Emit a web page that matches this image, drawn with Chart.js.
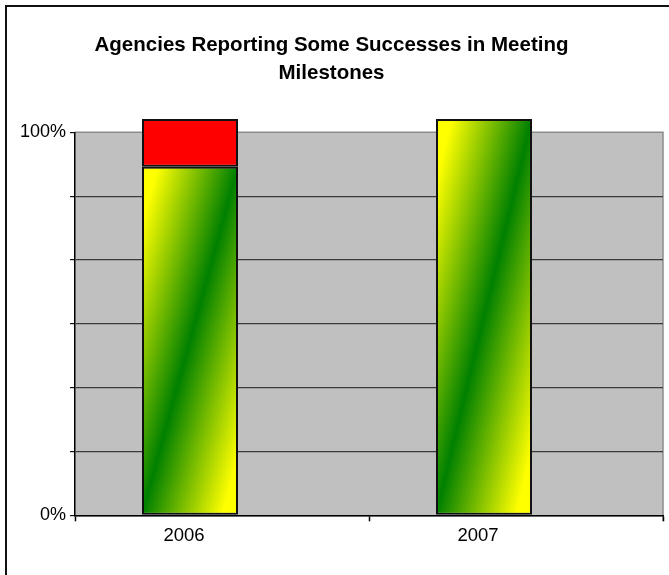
<!DOCTYPE html>
<html>
<head>
<meta charset="utf-8">
<script src="https://cdn.jsdelivr.net/npm/chart.js@4.4.0/dist/chart.umd.min.js"></script>
<style>
    html, body { margin: 0; padding: 0; background: #fff; }
    #grafico-container { width: 669px; height: 575px; position: relative; }
</style>
</head>
<body>
<div id="grafico-container"><canvas id="graficoMarcos"></canvas></div>
<script>
// ============================================================
// Agencies Reporting Some Successes in Meeting Milestones
// ============================================================

const anos = ["2006", "2007"];
const comSucesso = [91, 103.5];     // yellow/green gradient part
const semSucesso = [12.5, null];    // red part on top
const vazio = [0, 0];               // empty second stack (pushes bars left, like the original)
const rotulosY = ["0%", "100%"];
const titulo = ["Agencies Reporting Some Successes in Meeting", "Milestones"];

const fonte = "'Liberation Sans', Arial, sans-serif";

// diagonal gradient: yellow corners, green along bottom-left -> top-right diagonal
function gradienteBarra(c) {
    const el = c.element;
    if (!el || !el.width || el.base === undefined) return "#7fbf00";
    const w = el.width, h = Math.abs(el.base - el.y);
    const cx = el.x, cy = (el.y + el.base) / 2;
    const k = w * h / (w * w + h * h);
    const g = c.chart.ctx.createLinearGradient(cx - k * h, cy - k * w, cx + k * h, cy + k * w);
    g.addColorStop(0, "#ffff00");
    g.addColorStop(0.08, "#ffff00");
    g.addColorStop(0.5, "#008000");
    g.addColorStop(0.92, "#ffff00");
    g.addColorStop(1, "#ffff00");
    return g;
}

const fundoPlugin = {
    id: "fundo",
    beforeDraw(chart) {
        const { ctx, chartArea: a, width, height } = chart;
        ctx.save();
        ctx.fillStyle = "#fff";
        ctx.fillRect(0, 0, width, height);
        // outer frame (only left/top visible in the crop)
        ctx.strokeStyle = "#111";
        ctx.lineWidth = 2;
        ctx.beginPath();
        ctx.moveTo(6, height);
        ctx.lineTo(6, 6);
        ctx.lineTo(width, 6);
        ctx.stroke();
        // plot area
        ctx.fillStyle = "#c0c0c0";
        ctx.fillRect(a.left, a.top, a.right - a.left, a.bottom - a.top);
        ctx.strokeStyle = "#8c8c8c";
        ctx.lineWidth = 1.5;
        ctx.beginPath();
        ctx.moveTo(a.left, a.top);
        ctx.lineTo(a.right, a.top);
        ctx.lineTo(a.right, a.bottom + 6);
        ctx.stroke();
        ctx.restore();
    }
};

const ctx = document.getElementById("graficoMarcos").getContext("2d");

const grafico = new Chart(ctx, {
    type: "bar",
    data: {
        labels: anos,
        datasets: [
            { label: "Success", data: comSucesso, stack: "a", backgroundColor: gradienteBarra,
              borderColor: "#111", borderWidth: 2, borderSkipped: false, clip: false },
            { label: "No success", data: semSucesso, stack: "a", backgroundColor: "#ff0000",
              borderColor: "#111", borderWidth: 2, borderSkipped: false, clip: false },
            { label: "", data: vazio, stack: "b", backgroundColor: "rgba(0,0,0,0)", borderWidth: 0 }
        ]
    },
    options: {
        responsive: true,
        maintainAspectRatio: false,
        animation: false,
        events: [],
        barPercentage: 1.5,
        categoryPercentage: 128 / 294,
        layout: { padding: { left: 0, right: 6, top: 0, bottom: 0 } },
        plugins: {
            legend: { display: false },
            tooltip: { enabled: false },
            title: {
                display: true,
                text: titulo,
                color: "#000",
                font: { family: fonte, size: 20.5, weight: "bold", lineHeight: "28px" },
                padding: { top: 31, bottom: 45.3 }
            }
        },
        scales: {
            x: {
                stacked: true,
                offset: true,
                grid: { offset: true, drawOnChartArea: false, tickLength: 6, tickColor: "#000", tickWidth: 1.5 },
                border: { display: true, color: "#000", width: 1.5 },
                ticks: { color: "#000", font: { family: fonte, size: 18.5 }, padding: 4, labelOffset: -38, maxRotation: 0 },
                afterFit: s => { s.height = 59.7; }
            },
            y: {
                stacked: true,
                min: 0,
                max: 100,
                grid: {
                    color: c => (c.tick && Math.abs(c.tick.value - 100) < 0.01) ? "rgba(0,0,0,0)" : "#3a3a3a",
                    tickColor: "#111",
                    tickLength: 5,
                    lineWidth: 1.2
                },
                border: { display: true, color: "#000", width: 1.5 },
                ticks: {
                    stepSize: 100 / 6,
                    autoSkip: false,
                    color: "#000",
                    padding: 4,
                    font: { family: fonte, size: 18 },
                    callback: v => Math.abs(v) < 0.01 ? rotulosY[0] : (Math.abs(v - 100) < 0.01 ? rotulosY[1] : "")
                },
                afterFit: s => { s.width = 75; }
            }
        }
    },
    plugins: [fundoPlugin]
});

// second pass so the gradient can use the bar geometry
grafico.update();
</script>
</body>
</html>
